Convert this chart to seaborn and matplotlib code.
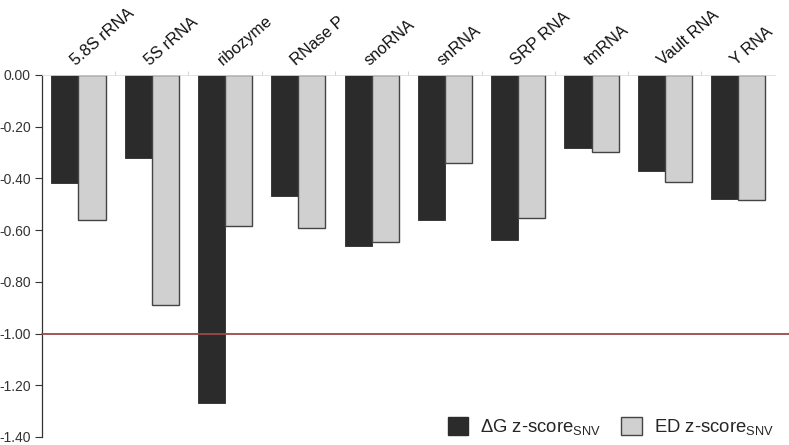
import matplotlib
matplotlib.use("Agg")
import matplotlib.pyplot as plt
import seaborn as sns
import pandas as pd
from matplotlib.ticker import FormatStrFormatter, FixedLocator
from matplotlib.patches import Patch

categories = ["5.8S rRNA", "5S rRNA", "ribozyme", "RNase P", "snoRNA",
              "snRNA", "SRP RNA", "tmRNA", "Vault RNA", "Y RNA"]
dg_values = [-0.416, -0.322, -1.269, -0.468, -0.660, -0.561, -0.640, -0.284, -0.371, -0.479]
ed_values = [-0.562, -0.888, -0.584, -0.593, -0.646, -0.341, -0.554, -0.296, -0.412, -0.483]
series_names = ["ΔG z-score$_{\\mathregular{SNV}}$", "ED z-score$_{\\mathregular{SNV}}$"]
y_ticks = [0.0, -0.2, -0.4, -0.6, -0.8, -1.0, -1.2, -1.4]
threshold = -1.0

df = pd.DataFrame({
    "category": categories * 2,
    "value": dg_values + ed_values,
    "series": [series_names[0]] * len(categories) + [series_names[1]] * len(categories),
})

sns.set_theme(style="white")
plt.rcParams["font.family"] = ["Liberation Sans", "DejaVu Sans"]
plt.rcParams["axes.unicode_minus"] = False

fig = plt.figure(figsize=(7.89, 4.45), dpi=100)
ax = fig.add_axes([0.053, 0.018, 0.929, 0.8135])

colors = ["#2b2b2b", "#d0d0d0"]
sns.barplot(data=df, x="category", y="value", hue="series", palette=colors,
            width=0.74, gap=0, ax=ax, legend=False, saturation=1)

for i, bar in enumerate(ax.patches):
    if i < len(categories):
        bar.set_edgecolor("#2b2b2b")
        bar.set_linewidth(0.6)
    else:
        bar.set_edgecolor("#444444")
        bar.set_linewidth(1.0)

ax.set_ylim(-1.4, 0)
ax.set_xlim(-0.5, len(categories) - 0.5)
ax.axhline(threshold, color="#9b4a4a", lw=1.3, xmin=0, xmax=1.02, clip_on=False, zorder=3)

ax.set_yticks(y_ticks)
ax.yaxis.set_major_formatter(FormatStrFormatter("%.2f"))
ax.tick_params(axis="y", direction="out", length=5, width=0.8, color="#333333",
               labelsize=10, labelcolor="#333333", left=True, pad=3)

ax.xaxis.set_ticks_position("top")
ax.xaxis.set_label_position("top")
ax.set_xticks(range(len(categories)))
ax.set_xticklabels(categories, rotation=41, ha="left", rotation_mode="anchor",
                   fontsize=11.8, color="#111111")
ax.tick_params(axis="x", length=0, pad=5)
ax.xaxis.set_minor_locator(FixedLocator([i + 0.5 for i in range(len(categories) - 1)]))
ax.tick_params(axis="x", which="minor", top=True, direction="out", length=3,
               width=0.6, color="#cccccc")

ax.set_xlabel("")
ax.set_ylabel("")
for s in ["right", "bottom"]:
    ax.spines[s].set_visible(False)
ax.spines["left"].set_color("#333333")
ax.spines["left"].set_linewidth(0.9)
ax.spines["top"].set_color("#dddddd")
ax.spines["top"].set_linewidth(0.6)

handles = [Patch(facecolor=colors[0], edgecolor="#2b2b2b"),
           Patch(facecolor=colors[1], edgecolor="#444444")]
fig.legend(handles, series_names, ncol=2, loc="center right",
           bbox_to_anchor=(774 / 789, 1 - 427 / 445), bbox_transform=fig.transFigure,
           frameon=False, fontsize=13.3, handlelength=1.1, handleheight=1.1,
           columnspacing=1.1, handletextpad=0.65, borderpad=0, borderaxespad=0)

fig.savefig("out.png", dpi=100)
